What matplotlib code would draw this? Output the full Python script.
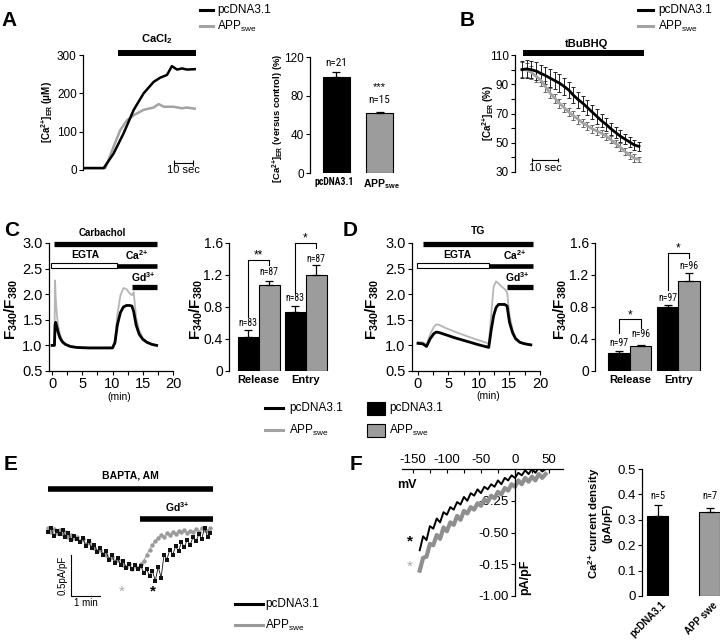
import numpy as np
import matplotlib
matplotlib.use("Agg")
import matplotlib.pyplot as plt
from matplotlib.lines import Line2D
from matplotlib.patches import Rectangle
from matplotlib import font_manager

_avail = {f.name for f in font_manager.fontManager.ttflist}
NARROW = 'Liberation Sans'
for _c in ['Liberation Sans Narrow', 'Arial Narrow', 'Roboto Condensed']:
    if _c in _avail:
        NARROW = _c
        break
plt.rcParams['font.family'] = ['Liberation Sans', 'DejaVu Sans']
plt.rcParams['mathtext.fontset'] = 'custom'
plt.rcParams['mathtext.rm'] = 'Liberation Sans'
plt.rcParams['mathtext.it'] = 'Liberation Sans:italic'
plt.rcParams['mathtext.bf'] = 'Liberation Sans:bold'

# ---------------- data ----------------
BLACK = '#000000'
GRAY = '#a3a3a3'
BARGRAY = '#9c9c9c'

# Panel A: ER Ca2+ trace (s, uM)
a_black_t = [1.2, 10.9, 16.1, 21.4, 26.7, 31.9, 37.2, 40.7, 44.2, 46.8, 49.5, 52.1, 54.7, 58.8]
a_black_v = [5, 5, 43, 96, 157, 200, 230, 241, 248, 271, 262, 265, 262, 263]
a_gray_t = [1.2, 11.8, 16.1, 19.6, 23.2, 26.7, 31.9, 37.2, 39.8, 42.5, 47.7, 52.1, 54.7, 58.8]
a_gray_v = [5, 5, 61, 104, 130, 143, 157, 163, 172, 165, 165, 161, 163, 160]
# Panel A bars (% of control)
a_groups = ['pcDNA3.1', 'APP']
a_vals = [99, 62]
a_errs = [6, 1.5]
a_n = ['n=21', 'n=15']

# Panel B: tBuBHQ depletion (%)
b_black = [100, 100.5, 100, 99, 97.5, 96, 94.2, 92.5, 90.8, 88.5, 86, 82.5, 79.5, 77, 74, 71, 68, 65,
           62.5, 59.5, 57, 54.5, 52.5, 50.5, 48.5, 47.5]
b_gray = [100, 99.8, 98, 95.5, 93, 88.5, 84, 80.5, 77, 74, 71, 68.5, 66, 63.5, 61.5, 59.5, 58, 56.5,
          54.5, 52, 49.5, 47, 44, 41.5, 39.5, 38.5]
b_black_err = [6, 6, 6, 6, 6, 6, 6, 6, 6, 6, 5.5, 5.5, 5.5, 5, 5, 5, 5, 4.5, 4.5, 4, 4, 4, 3.5, 3.5, 3.5, 3]
b_gray_err = [5, 5, 4.5, 4, 4, 3.5, 3.5, 3, 3, 3, 3, 3, 3, 2.5, 2.5, 2.5, 2.5, 2.5, 2.5, 2.5, 2.5, 2.5,
              2.5, 2.5, 2.5, 2]

# Panel C: carbachol trace (min, F340/F380)
c_t = [0, 0.4, 0.5, 0.6, 0.8, 1.0, 1.3, 1.7, 2.2, 3.0, 4.0, 6.0, 8.0, 10.0, 10.4, 10.8, 11.3, 11.8,
       12.3, 12.8, 13.2, 13.5, 13.9, 14.4, 15.0, 15.7, 16.5, 17.3]
c_black = [1.0, 1.0, 1.4, 1.45, 1.36, 1.26, 1.15, 1.07, 1.02, 0.98, 0.96, 0.95, 0.95, 0.95, 1.05, 1.4,
           1.64, 1.75, 1.78, 1.78, 1.77, 1.66, 1.4, 1.22, 1.12, 1.06, 1.02, 1.0]
c_gray = [1.0, 1.0, 2.27, 1.95, 1.6, 1.4, 1.22, 1.1, 1.03, 0.99, 0.97, 0.96, 0.96, 0.96, 1.1, 1.6,
          1.97, 2.12, 2.1, 2.02, 1.98, 2.04, 1.55, 1.3, 1.14, 1.06, 1.02, 1.0]
# Panel C bars
cat_labels = ['Release', 'Entry']
c_bar_black = [0.42, 0.74]
c_bar_black_err = [0.09, 0.07]
c_bar_gray = [1.08, 1.2]
c_bar_gray_err = [0.05, 0.13]
c_n_black = ['n=83', 'n=83']
c_n_gray = ['n=87', 'n=87']
c_sig = ['**', '*']

# Panel D: TG trace
d_t = [0, 0.8, 1.4, 2.0, 2.6, 3.0, 3.5, 4.5, 6, 8, 10, 11.3, 11.6, 12.0, 12.4, 12.8, 13.2, 13.7, 14.2,
       14.6, 15.0, 15.5, 16.0, 16.7, 17.5, 18.5]
d_black = [1.04, 1.03, 0.98, 1.13, 1.23, 1.26, 1.25, 1.21, 1.15, 1.08, 1.01, 0.97, 0.96, 1.3, 1.58,
           1.74, 1.8, 1.8, 1.8, 1.77, 1.45, 1.25, 1.13, 1.06, 1.03, 1.01]
d_gray = [1.07, 1.06, 1.01, 1.22, 1.36, 1.41, 1.4, 1.34, 1.27, 1.18, 1.1, 1.05, 1.03, 1.6, 2.15, 2.25,
          2.21, 2.15, 2.1, 2.04, 1.6, 1.3, 1.15, 1.07, 1.04, 1.02]
# Panel D bars
d_bar_black = [0.22, 0.80]
d_bar_black_err = [0.025, 0.03]
d_bar_gray = [0.31, 1.12]
d_bar_gray_err = [0.02, 0.1]
d_n_black = ['n=97', 'n=97']
d_n_gray = ['n=96', 'n=96']
d_sig = ['*', '*']

# Panel E: current (pA/pF) vs time (min)
e_t = np.arange(57) * 0.1
e_gray = [0.02, -0.03, 0.01, -0.04, 0.0, -0.05,
          -0.02, -0.08, -0.06, -0.10, -0.09,
          -0.13, -0.11, -0.17, -0.15, -0.20,
          -0.22, -0.26, -0.24, -0.29, -0.31,
          -0.35, -0.33, -0.38, -0.37, -0.41,
          -0.43, -0.45, -0.42, -0.47, -0.44,
          -0.46, -0.42, -0.38, -0.30, -0.24,
          -0.18, -0.13, -0.10, -0.06, -0.08,
          -0.04, -0.06, -0.02, -0.05, -0.01,
          -0.03, 0.00, -0.04, -0.01, -0.03,
          0.01, -0.02, 0.02, 0.00, -0.01, 0.02]
e_black = [-0.03, 0.02, -0.07, -0.01, -0.05, 0.0,
           -0.09, -0.04, -0.12, -0.07, -0.11,
           -0.15, -0.10, -0.19, -0.14, -0.22,
           -0.18, -0.27, -0.22, -0.31, -0.26,
           -0.36, -0.30, -0.40, -0.34, -0.43,
           -0.38, -0.46, -0.41, -0.48, -0.43,
           -0.47, -0.44, -0.52, -0.48, -0.56,
           -0.50, -0.62, -0.45, -0.58, -0.30,
           -0.36, -0.24, -0.30, -0.20, -0.26,
           -0.15, -0.21, -0.12, -0.18, -0.09,
           -0.14, -0.05, -0.11, 0.03, -0.08, -0.04]

# Panel F: I-V curve
f_v = np.arange(-140, 46, 5)
f_black = [-0.64, -0.53, -0.56, -0.45, -0.47, -0.39, -0.42, -0.34, -0.36, -0.30, -0.32, -0.26, -0.28,
           -0.22, -0.25, -0.19, -0.21, -0.16, -0.19, -0.14, -0.16, -0.12, -0.14, -0.09, -0.12, -0.07,
           -0.09, -0.05, -0.07, -0.03, -0.05, -0.01, -0.04, 0.0, -0.03, 0.01, -0.02, 0.0]
f_gray = [-0.80, -0.70, -0.69, -0.59, -0.60, -0.52, -0.55, -0.46, -0.49, -0.42, -0.44, -0.37, -0.40,
          -0.33, -0.35, -0.30, -0.32, -0.27, -0.29, -0.24, -0.26, -0.21, -0.23, -0.18, -0.20, -0.15,
          -0.17, -0.12, -0.14, -0.09, -0.12, -0.07, -0.10, -0.06, -0.09, -0.04, -0.07, -0.04]
f_xticks = [-150, -125, -100, -75, -50, -25, 0, 25, 50]
f_xticklabels = ['-150', '', '-100', '', '-50', '', '0', '', '50']
f_yticks = [-1.0, -0.75, -0.5, -0.25]
f_yticklabels = ['-1.00', '-0.15', '-0.50', '-0.25']
# Panel F bars
f_groups = ['pcDNA3.1', 'APP swe']
f_vals = [0.315, 0.33]
f_errs = [0.045, 0.017]
f_n = ['n=5', 'n=7']

# ---------------- helpers ----------------
W, H = 720.0, 641.0
fig = plt.figure(figsize=(7.2, 6.41), dpi=100)


def add_ax(x0, y0, x1, y1, labelsize=9):
    ax = fig.add_axes([x0 / W, 1 - y1 / H, (x1 - x0) / W, (y1 - y0) / H])
    ax.patch.set_alpha(0)
    for s in ['top', 'right', 'bottom']:
        ax.spines[s].set_visible(False)
    ax.spines['left'].set_linewidth(0.9)
    ax.tick_params(direction='out', length=3, width=0.8, labelsize=labelsize, pad=1.5)
    ax.set_xticks([])
    return ax


def ftext(x, y, s, **kw):
    return fig.text(x / W, 1 - y / H, s, **kw)


def fline(x0, x1, y0, y1, **kw):
    fig.add_artist(Line2D([x0 / W, x1 / W], [1 - y0 / H, 1 - y1 / H], transform=fig.transFigure, **kw))


def hbar(ax, x0, x1, y, lw):
    ax.plot([x0, x1], [y, y], color='k', lw=lw, solid_capstyle='butt', clip_on=False)


def err_bars(ax, xs, vals, errs, colors, width):
    ax.bar(xs, vals, width, color=colors, edgecolor='black', linewidth=0.8, zorder=2)
    ax.errorbar(xs, vals, yerr=[np.zeros(len(vals)), errs], fmt='none', ecolor='black',
                elinewidth=0.9, capsize=3, capthick=0.9, zorder=3)


def bracket(ax, xl, xr, yl, yr, top):
    ax.plot([xl, xl, xr, xr], [yl, top, top, yr], color='k', lw=0.8, clip_on=False)


SWE = 'APP$_{\\mathrm{swe}}$'
SWE_B = 'APP$_{\\mathbf{swe}}$'
CA_ER_B = '[Ca$^{\\mathbf{2{+}}}$]$_{\\mathbf{ER}}$'
CA2_B = 'Ca$^{\\mathbf{2{+}}}$'
GD3_B = 'Gd$^{\\mathbf{3{+}}}$'
FRATIO = 'F$_{\\mathbf{340}}$/F$_{\\mathbf{380}}$'

# panel letters
for lab, (x, y) in {'A': (9, 21), 'B': (467, 21), 'C': (12, 231), 'D': (350, 231),
                    'E': (11, 465), 'F': (356, 465)}.items():
    ftext(x, y, lab, fontsize=15, fontweight='bold', ha='center', va='center')

# ================= Panel A =================
ax = add_ax(83, 55, 197, 170, labelsize=8.5)
ax.set_xlim(0, 60)
ax.set_ylim(0, 300)
ax.set_yticks([0, 100, 200, 300])
ax.plot(a_gray_t, a_gray_v, color=GRAY, lw=1.8)
ax.plot(a_black_t, a_black_v, color=BLACK, lw=1.8)
hbar(ax, 18.4, 59.5, 305, 4.3)
ax.text(39, 323, 'CaCl$_{\\mathbf{2}}$', ha='center', va='bottom', fontsize=8, fontweight='bold')
ax.plot([47.9, 57.9], [18, 18], color='k', lw=0.8, marker='|', markersize=4, markeredgewidth=0.8)
ax.text(52.9, 12, '10 sec', ha='center', va='top', fontsize=8)
ftext(47, 112, CA_ER_B + ' (μM)', rotation=90, ha='center', va='center', fontsize=7, fontweight='bold')

fline(200, 213, 10, 10, color=BLACK, lw=2.2)
fline(200, 213, 26, 26, color=GRAY, lw=2.2)
ftext(217, 10, 'pcDNA3.1', fontsize=8.5, va='center')
ftext(217, 26, SWE, fontsize=8.5, va='center')

ax = add_ax(310, 57, 395, 173, labelsize=8.5)
ax.set_xlim(-0.616, 1.36)
ax.set_ylim(0, 120)
ax.set_yticks([0, 40, 80, 120])
err_bars(ax, [0, 1], a_vals, a_errs, [BLACK, BARGRAY], 0.62)
ax.text(0, 113.8, a_n[0], ha='center', va='center', fontsize=8, family=NARROW)
ax.text(1, 75.5, a_n[1], ha='center', va='center', fontsize=8, family=NARROW)
ax.text(1, 89, '***', ha='center', va='center', fontsize=8)
ax.text(-0.05, -4, a_groups[0], ha='center', va='top', fontsize=7, fontweight='bold', family=NARROW)
ax.text(1.05, -4, SWE_B, ha='center', va='top', fontsize=7.5, fontweight='bold')
ftext(278, 118, CA_ER_B + ' (versus control) (%)', rotation=90, ha='center', va='center',
      fontsize=6.8, fontweight='bold')

# ================= Panel B =================
ax = add_ax(515, 55, 645, 172, labelsize=8.5)
ax.set_xlim(-2.6, 46)
ax.set_ylim(30, 110)
ax.set_yticks(np.arange(30, 111, 10))
ax.set_yticklabels(['30', '', '50', '', '70', '', '90', '', '110'])
b_t = np.arange(len(b_black)) * 1.75
ax.errorbar(b_t, b_gray, yerr=b_gray_err, fmt='none', ecolor='#666666', elinewidth=0.7, capsize=1.5,
            capthick=0.7)
ax.errorbar(b_t, b_black, yerr=b_black_err, fmt='none', ecolor='#222222', elinewidth=0.7, capsize=1.5,
            capthick=0.7)
ax.plot(b_t, b_gray, color=GRAY, lw=2.0)
ax.plot(b_t, b_black, color=BLACK, lw=2.0)
hbar(ax, 0.4, 45.7, 111.3, 4.3)
ax.text(24, 114, 'tBuBHQ', ha='center', va='bottom', fontsize=8, fontweight='bold')
ax.plot([3.7, 13.5], [38.2, 38.2], color='k', lw=0.8, marker='|', markersize=3, markeredgewidth=0.8)
ax.text(8.6, 36, '10 sec', ha='center', va='top', fontsize=8)
ftext(488, 113, CA_ER_B + ' (%)', rotation=90, ha='center', va='center', fontsize=7, fontweight='bold')
fline(638, 653, 10, 10, color=BLACK, lw=2.2)
fline(638, 653, 26, 26, color=GRAY, lw=2.2)
ftext(658, 10, 'pcDNA3.1', fontsize=8.5, va='center')
ftext(658, 26, SWE, fontsize=8.5, va='center')


# ================= Panels C & D traces =================
def trace_axes(x0, x1, xmin):
    ax = add_ax(x0, 243, x1, 371, labelsize=10.5)
    ax.spines['bottom'].set_visible(True)
    ax.spines['bottom'].set_linewidth(0.9)
    ax.set_xlim(xmin, 20)
    ax.set_ylim(0.5, 3.0)
    ax.set_yticks([0.5, 1.0, 1.5, 2.0, 2.5, 3.0])
    ax.set_yticklabels(['0.5', '1.0', '1.5', '2.0', '2.5', '3.0'])
    ax.set_xticks(np.arange(0, 20.1, 2.5))
    ax.set_xticklabels(['0', '', '5', '', '10', '', '15', '', '20'])
    return ax


ax = trace_axes(49, 173, -0.5)
ax.plot(c_t, c_gray, color='#b5b5b5', lw=1.3)
ax.plot(c_t, c_black, color=BLACK, lw=2.0)
hbar(ax, 0.33, 17.35, 2.99, 3.8)
ax.add_patch(Rectangle((-0.2, 2.51), 10.9, 0.09, facecolor='white', edgecolor='k', lw=0.8, clip_on=False))
hbar(ax, 10.7, 17.35, 2.555, 3.3)
hbar(ax, 13.3, 17.35, 2.14, 3.8)
ax.text(8.3, 3.2, 'Carbachol', ha='center', va='center', fontsize=7, fontweight='bold')
ax.text(5.5, 2.77, 'EGTA', ha='center', va='center', fontsize=7.5, fontweight='bold')
ax.text(14.0, 2.77, CA2_B, ha='center', va='center', fontsize=7.5, fontweight='bold')
ax.text(15.0, 2.34, GD3_B, ha='center', va='center', fontsize=7.5, fontweight='bold')
ftext(119, 397, '(min)', ha='center', va='center', fontsize=7.5)
ftext(11, 310, FRATIO, rotation=90, ha='center', va='center', fontsize=11, fontweight='bold')

ax = trace_axes(412, 540, -0.98)
ax.plot(d_t, d_gray, color='#b5b5b5', lw=1.3)
ax.plot(d_t, d_black, color=BLACK, lw=2.0)
hbar(ax, 0.8, 18.9, 2.99, 3.8)
ax.add_patch(Rectangle((-0.16, 2.51), 11.76, 0.09, facecolor='white', edgecolor='k', lw=0.8, clip_on=False))
hbar(ax, 11.6, 18.9, 2.555, 3.3)
hbar(ax, 14.6, 18.9, 2.14, 3.8)
ax.text(9.8, 3.23, 'TG', ha='center', va='center', fontsize=7.5, fontweight='bold')
ax.text(6.4, 2.77, 'EGTA', ha='center', va='center', fontsize=7.5, fontweight='bold')
ax.text(15.9, 2.77, CA2_B, ha='center', va='center', fontsize=7.5, fontweight='bold')
ax.text(16.2, 2.34, GD3_B, ha='center', va='center', fontsize=7.5, fontweight='bold')
ftext(488, 396, '(min)', ha='center', va='center', fontsize=7.5)
ftext(372, 310, FRATIO, rotation=90, ha='center', va='center', fontsize=11, fontweight='bold')


# ================= Panels C & D bars =================
def group_bars(x0, x1, xlim, w, blk, blk_e, gry, gry_e, n_b, n_g, n_b_y, n_g_y, sig, brk, ylab_x):
    ax = add_ax(x0, 243, x1, 371, labelsize=10)
    ax.set_xlim(*xlim)
    ax.set_ylim(0, 1.6)
    ax.set_yticks([0, 0.4, 0.8, 1.2, 1.6])
    ax.set_yticklabels(['0', '0.4', '0.8', '1.2', '1.6'])
    g = np.arange(len(blk))
    err_bars(ax, g - w / 2, blk, blk_e, BLACK, w)
    err_bars(ax, g + w / 2, gry, gry_e, BARGRAY, w)
    for i in g:
        ax.text(i - w / 2, n_b_y[i], n_b[i], ha='center', va='center', fontsize=7, family=NARROW)
        ax.text(i + w / 2, n_g_y[i], n_g[i], ha='center', va='center', fontsize=7, family=NARROW)
        yl, yr, top, sy = brk[i]
        bracket(ax, i - w / 2, i + w / 2, yl, yr, top)
        ax.text(i, sy, sig[i], ha='center', va='center', fontsize=8.5)
        ax.text(i, -0.05, cat_labels[i], ha='center', va='top', fontsize=8, fontweight='bold')
    ftext(ylab_x, 310, FRATIO, rotation=90, ha='center', va='center', fontsize=11, fontweight='bold')
    return ax


group_bars(229, 330, (-0.628, 1.52), 0.447, c_bar_black, c_bar_black_err, c_bar_gray, c_bar_gray_err,
           c_n_black, c_n_gray, [0.6, 0.91], [1.24, 1.4], c_sig,
           [(0.67, 1.32, 1.39, 1.45), (0.975, 1.54, 1.6, 1.66)], 196)
group_bars(595, 705, (-0.72, 1.55), 0.443, d_bar_black, d_bar_black_err, d_bar_gray, d_bar_gray_err,
           d_n_black, d_n_gray, [0.35, 0.91], [0.46, 1.31], d_sig,
           [(0.475, 0.54, 0.65, 0.7), (1.01, 1.41, 1.475, 1.53)], 560)

# legends C and D
fline(265, 283, 408, 408, color=BLACK, lw=2.2)
fline(265, 283, 430, 430, color=GRAY, lw=2.2)
ftext(289, 408, 'pcDNA3.1', fontsize=8.5, va='center')
ftext(289, 430, SWE, fontsize=8.5, va='center')
fig.add_artist(Rectangle((367 / W, 1 - 415 / H), 18 / W, 13 / H, transform=fig.transFigure,
                         facecolor=BLACK, edgecolor='k', lw=0.8))
fig.add_artist(Rectangle((367 / W, 1 - 437 / H), 18 / W, 13 / H, transform=fig.transFigure,
                         facecolor=BARGRAY, edgecolor='k', lw=0.8))
ftext(389, 408, 'pcDNA3.1', fontsize=8.5, va='center')
ftext(389, 430, SWE, fontsize=8.5, va='center')

# ================= Panel E =================
ax = add_ax(40, 465, 220, 610)
ax.axis('off')
ax.set_xlim(-0.276, 5.93)
ax.set_ylim(-0.976, 0.793)
ax.plot(e_t, e_gray, color='#9a9a9a', lw=0.6, marker='o', markersize=3.2, markeredgewidth=0)
ax.plot(e_t, e_black, color='#111111', lw=0.6, marker='s', markersize=2.6, markeredgewidth=0)
hbar(ax, 0, 5.69, 0.50, 4.0)
hbar(ax, 3.17, 5.69, 0.134, 4.0)
ax.text(2.83, 0.67, 'BAPTA, AM', ha='center', va='center', fontsize=7.5, fontweight='bold')
ax.text(4.45, 0.28, GD3_B, ha='center', va='center', fontsize=7.5, fontweight='bold')
ax.plot([0.79, 0.79, 1.79], [-0.305, -0.805, -0.805], color='k', lw=0.8)
ax.text(0.5, -0.555, '0.5pA/pF', rotation=90, ha='center', va='center', fontsize=7)
ax.text(1.29, -0.83, '1 min', ha='center', va='top', fontsize=7)
ax.text(2.55, -0.75, '*', ha='center', va='center', fontsize=11, color='#aaaaaa')
ax.text(3.62, -0.75, '*', ha='center', va='center', fontsize=11, color='k', fontweight='bold')
fline(235, 263, 604, 604, color=BLACK, lw=2.2)
fline(235, 263, 625, 625, color='#9a9a9a', lw=2.2)
ftext(265, 604, 'pcDNA3.1', fontsize=8.5, va='center')
ftext(265, 625, SWE, fontsize=8.5, va='center')

# ================= Panel F =================
ax = fig.add_axes([402 / W, 1 - 596 / H, 161 / W, 127 / H])
ax.patch.set_alpha(0)
ax.set_xlim(-166, 70.6)
ax.set_ylim(-1.0, 0.0)
for s in ['right', 'bottom']:
    ax.spines[s].set_visible(False)
ax.spines['left'].set_position(('data', 0))
ax.spines['left'].set_linewidth(0.9)
ax.spines['top'].set_linewidth(0.9)
ax.xaxis.tick_top()
ax.set_xticks(f_xticks)
ax.set_xticklabels(f_xticklabels)
ax.tick_params(axis='x', direction='in', length=3, width=0.8, labelsize=9.5, pad=2)
ax.set_yticks(f_yticks)
ax.set_yticklabels(f_yticklabels)
ax.tick_params(axis='y', direction='out', length=3, width=0.8, labelsize=9.5, pad=1.5)
ax.plot(f_v, f_gray, color='#8f8f8f', lw=3.0)
ax.plot(f_v, f_black, color='k', lw=1.4)
ax.text(-159, -0.126, 'mV', ha='center', va='center', fontsize=9, fontweight='bold')
ax.text(14.7, -0.85, 'pA/pF', rotation=90, ha='center', va='center', fontsize=9, fontweight='bold')
ax.text(-154, -0.57, '*', ha='center', va='center', fontsize=11, fontweight='bold', color='k')
ax.text(-154, -0.77, '*', ha='center', va='center', fontsize=11, color='#aaaaaa')

ax = add_ax(642, 469, 720, 596, labelsize=9.5)
ax.set_xlim(-0.298, 1.2)
ax.set_ylim(0, 0.5)
ax.set_yticks([0, 0.1, 0.2, 0.3, 0.4, 0.5])
ax.set_yticklabels(['0', '0.1', '0.2', '0.3', '0.4', '0.5'])
err_bars(ax, [0, 1], f_vals, f_errs, [BLACK, BARGRAY], 0.4)
for i in range(2):
    ax.text(i, 0.394, f_n[i], ha='center', va='center', fontsize=7.5, family=NARROW)
    ax.text(i + 0.06, -0.015, f_groups[i], rotation=45, ha='right', va='top', rotation_mode='anchor',
            fontsize=7, fontweight='bold')
ftext(599, 523, CA2_B + ' current density\n(pA/pF)', rotation=90, ha='center', va='center',
      fontsize=8.2, fontweight='bold', linespacing=1.0)

fig.savefig('out.png', dpi=100)
